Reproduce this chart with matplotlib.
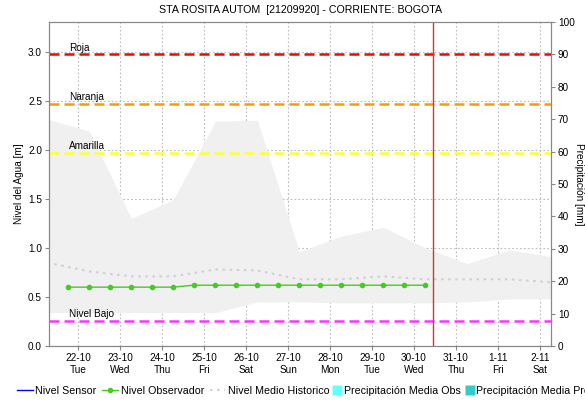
import matplotlib
matplotlib.use("Agg")
import matplotlib.pyplot as plt
import numpy as np
from matplotlib.lines import Line2D

plt.rcParams['font.family'] = ['Liberation Sans', 'DejaVu Sans']

# dias del eje x (0 = 22-10)
dias = ['22-10', '23-10', '24-10', '25-10', '26-10', '27-10',
        '28-10', '29-10', '30-10', '31-10', '1-11', '2-11']
semana = ['Tue', 'Wed', 'Thu', 'Fri', 'Sat', 'Sun',
          'Mon', 'Tue', 'Wed', 'Thu', 'Fri', 'Sat']

# banda historica (max / min) y nivel medio historico
t_hist = [-0.73, 0.27, 1.27, 2.27, 3.27, 4.27, 5.27, 6.27, 7.27, 8.27, 9.27, 10.27, 11.27]
hist_max = [2.31, 2.19, 1.30, 1.49, 2.29, 2.30, 0.96, 1.12, 1.21, 1.00, 0.84, 0.98, 0.91]
hist_min = [0.34, 0.34, 0.34, 0.34, 0.34, 0.45, 0.45, 0.44, 0.44, 0.44, 0.45, 0.48, 0.48]
hist_medio = [0.85, 0.76, 0.71, 0.71, 0.78, 0.77, 0.68, 0.68, 0.71, 0.68, 0.68, 0.68, 0.65]

# nivel observador (dos lecturas por dia)
t_obs = [-0.24, 0.26, 0.76, 1.26, 1.76, 2.26, 2.76, 3.26, 3.76,
         4.26, 4.76, 5.26, 5.76, 6.26, 6.76, 7.26, 7.76, 8.26]
nivel_obs = [0.60, 0.60, 0.60, 0.60, 0.60, 0.60, 0.62, 0.62, 0.62,
             0.62, 0.62, 0.62, 0.62, 0.62, 0.62, 0.62, 0.62, 0.62]

# umbrales de alerta
umbrales = ['Roja', 'Naranja', 'Amarilla', 'Nivel Bajo']
umbral_val = [2.97, 2.47, 1.97, 0.26]
umbral_col = ['#ff0000', '#ff9900', '#ffff33', '#ff33ff']

ahora = 8.45

fig = plt.figure(figsize=(5.85, 4.01), dpi=100)
ax = fig.add_axes([0.0838, 0.137, 0.858, 0.808])

ax.fill_between(t_hist, hist_min, hist_max, color='#f0f0f0', lw=0, zorder=1)
ax.plot(t_hist, hist_medio, color='#d0d0d0', ls=(0, (1.2, 2.2)), lw=1.5, zorder=2)
ax.plot(t_obs, nivel_obs, color='#44cc22', lw=1.0, marker='o', ms=3, zorder=4)

for nom, val, col in zip(umbrales, umbral_val, umbral_col):
    ax.axhline(val, color=col, ls=(0, (4, 2)), lw=1.8, zorder=3)
    ax.text(-0.21, val + 0.015, nom, fontsize=7.2, va='bottom', ha='left', zorder=5)

ax.axvline(ahora, color='#e03030', lw=1.0, zorder=5)

ax.set_xlim(-0.69, 11.26)
ax.set_ylim(0, 3.3)
ax.set_xticks(range(len(dias)))
ax.set_xticklabels([d + '\n' + s for d, s in zip(dias, semana)], fontsize=7.2)
ax.set_yticks(np.arange(0, 3.01, 0.5))
ax.set_yticklabels(['%.1f' % v for v in np.arange(0, 3.01, 0.5)], fontsize=7.2)
ax.grid(True, color='#bbbbbb', ls=(0, (1.5, 2)), lw=0.8, zorder=0)
ax.set_axisbelow(True)
ax.set_ylabel('Nivel del Agua [m]', fontsize=7.2, labelpad=3)
ax.tick_params(length=3, color='#888888', pad=2)
for s in ax.spines.values():
    s.set_color('#888888')

ax2 = ax.twinx()
ax2.set_ylim(0, 100)
ax2.set_yticks(range(0, 101, 10))
ax2.tick_params(labelsize=7.2, length=3, color='#888888', pad=2)
ax2.set_ylabel('Precipitación [mm]', fontsize=7.2, rotation=270, labelpad=7)
for s in ax2.spines.values():
    s.set_color('#888888')

fig.text(0.514, 0.975, 'STA ROSITA AUTOM  [21209920] - CORRIENTE: BOGOTA',
         fontsize=7.7, ha='center', va='center')

# leyenda: series de nivel
lineas = [
    Line2D([], [], color='#0000ff', lw=1),
    Line2D([], [], color='#44cc22', lw=1, marker='o', ms=3),
    Line2D([], [], color='#d0d0d0', ls=(0, (1.2, 2.2)), lw=1.5),
]
fig.legend(lineas, ['Nivel Sensor', 'Nivel Observador', 'Nivel Medio Historico'],
           loc='lower left', bbox_to_anchor=(0.0146, -0.008),
           ncol=3, frameon=False, fontsize=7.7, handlelength=1.45, handletextpad=0.25,
           columnspacing=0.55, borderpad=0.3)

# leyenda: precipitacion (cuadros)
cuadros = [
    Line2D([], [], ls='none', marker='s', ms=7, mfc='#66ffff', mec='none'),
    Line2D([], [], ls='none', marker='s', ms=7, mfc='#33cccc', mec='none'),
]
fig.legend(cuadros, ['Precipitación Media Obs', 'Precipitación Media Pronosticada'],
           loc='lower left', bbox_to_anchor=(0.5555, -0.008),
           ncol=2, frameon=False, fontsize=7.7, handlelength=0.7, handletextpad=0.25,
           columnspacing=0.5, borderpad=0.3)

fig.savefig('out.png', dpi=100)
